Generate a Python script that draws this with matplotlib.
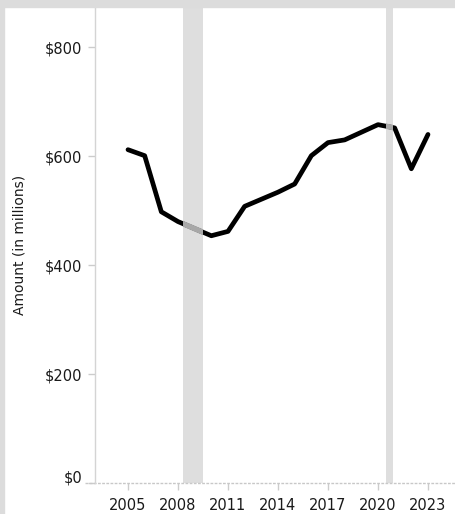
import matplotlib.pyplot as plt
import matplotlib.patches as mpatches
import matplotlib.transforms as mtransforms
from matplotlib.lines import Line2D

years = list(range(2005, 2024))
amounts = [612, 601, 498, 480, 467, 454, 462, 508, 521, 534, 549,
           601, 625, 630, 644, 658, 652, 577, 640]

# recession periods shaded behind the line (start, end in years)
recessions = [(2008.3, 2009.5), (2020.48, 2020.88)]

y_ticks = [0, 200, 400, 600, 800]
y_tick_labels = ["$0", "$200", "$400", "$600", "$800"]
x_ticks = [2005, 2008, 2011, 2014, 2017, 2020, 2023]

plt.rcParams['font.family'] = ['DejaVu Sans']

fig = plt.figure(figsize=(4.56, 5.14), dpi=100)
W, H = 456, 514
ax = fig.add_axes([95 / W, (H - 483) / H, (W - 95) / W, (483 - 7) / H])

# light gray frame strips along top and left edges
fig.patches.append(mpatches.Rectangle((0, (H - 7) / H), 1, 7 / H,
                                      transform=fig.transFigure,
                                      color="#dcdcdc", zorder=0))
fig.patches.append(mpatches.Rectangle((0, 0), 4 / W, 1,
                                      transform=fig.transFigure,
                                      color="#dcdcdc", zorder=0))

bands = []
for start, end in recessions:
    bands.append(ax.axvspan(start, end, color="#dedede", lw=0, zorder=1))

ax.plot(years, amounts, color="black", lw=3.4, solid_capstyle="round",
        solid_joinstyle="round", zorder=3)
# lighter segment where the line crosses a recession band
for band in bands:
    gray, = ax.plot(years, amounts, color="#a8a8a8", lw=3.9,
                    solid_joinstyle="round", zorder=4)
    gray.set_clip_path(band)

ax.set_xlim(2003.02, 2024.68)
ax.set_ylim(0, 874)

ax.set_yticks(y_ticks)
ax.set_yticklabels(y_tick_labels)
ax.set_xticks(x_ticks)
ax.set_xticklabels([str(x) for x in x_ticks])

ax.tick_params(axis="y", length=5, width=1, color="#cccccc", pad=4,
               labelsize=10.5, labelcolor="#1a1a1a")
ax.tick_params(axis="x", length=5, width=1, color="#cccccc", pad=6,
               labelsize=10.5, labelcolor="#1a1a1a", direction="out")

# lift the $0 label a little off the baseline
zero_label = ax.get_yticklabels()[0]
zero_label.set_transform(zero_label.get_transform() +
                         mtransforms.ScaledTranslation(0, 5 / 72,
                                                       fig.dpi_scale_trans))

for side in ["top", "right", "bottom"]:
    ax.spines[side].set_visible(False)
ax.spines["left"].set_color("#d4d4d4")
ax.spines["left"].set_linewidth(1)

# dotted baseline running slightly past the y axis
ax.add_line(Line2D([-0.028, 1], [0, 0], transform=ax.transAxes,
                   color="#c8c8c8", lw=1, ls=(0, (2, 1)), clip_on=False,
                   zorder=2))

ax.set_ylabel("Amount (in millions)", fontsize=10, color="#1a1a1a",
              labelpad=10)
ax.yaxis.set_label_coords(-68 / 361, 0.5)

fig.savefig("out.png", dpi=100)
